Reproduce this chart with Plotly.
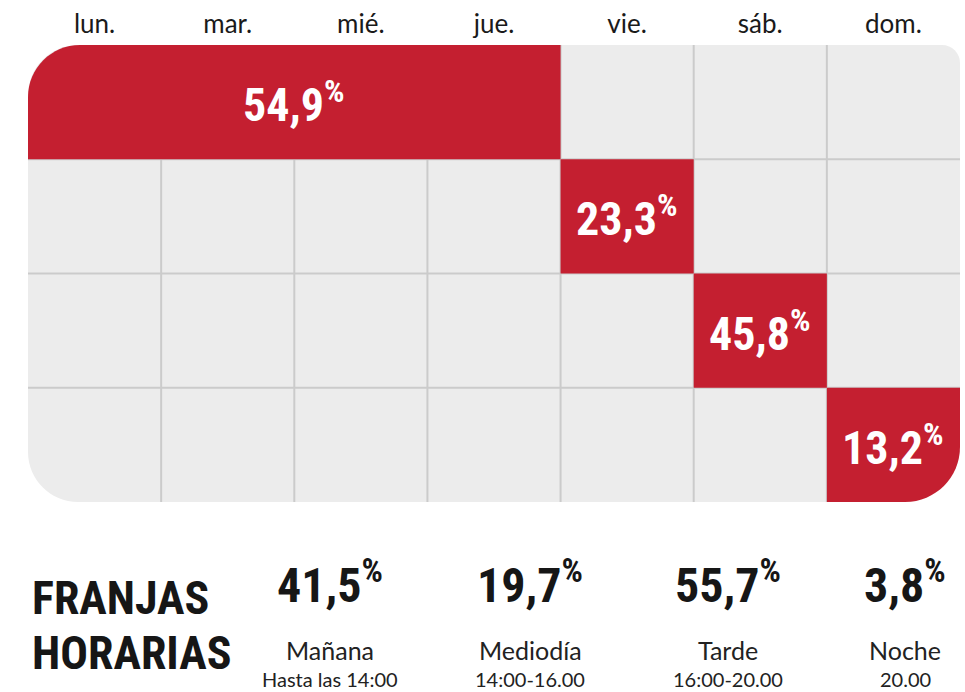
import plotly.graph_objects as go

# ---------------- data ----------------
days = ["lun.", "mar.", "mié.", "jue.", "vie.", "sáb.", "dom."]
n_rows = 4
block_row = [0, 1, 2, 3]          # row of each red block
block_start = [0, 4, 5, 6]        # first day column (index in days)
block_end = [4, 5, 6, 7]          # last column (exclusive)
block_value = ["54,9", "23,3", "45,8", "13,2"]

slot_value = ["41,5", "19,7", "55,7", "3,8"]
slot_name = ["Mañana", "Mediodía", "Tarde", "Noche"]
slot_hours = ["Hasta las 14:00", "14:00-16.00", "16:00-20.00", "20.00"]
section_title = ["FRANJAS", "HORARIAS"]

# ---------------- layout constants ----------------
W, H = 965, 692
GX0, GX1 = 28, 960       # grid horizontal pixel extent
GY0, GY1 = 45, 502       # grid vertical pixel extent
colpx = (GX1 - GX0) / len(days)
rowpx = (GY1 - GY0) / n_rows

RED = "#c41f30"
CELL = "#ececec"
LINE = "#cbcbcb"
COND = "Roboto Condensed, Open Sans Condensed, sans-serif"
SANS = "Lato, Open Sans, sans-serif"

K = 0.5523


def rpath(x0, x1, y0, y1, tl=0, tr=0, br=0, bl=0):
    """Rounded rectangle in data units; radii given in pixels."""
    def rx(r):
        return r / colpx

    def ry(r):
        return r / rowpx

    p = f"M {x0 + rx(tl)},{y0} L {x1 - rx(tr)},{y0} "
    if tr:
        p += (f"C {x1 - rx(tr) + K * rx(tr)},{y0} {x1},{y0 + ry(tr) - K * ry(tr)} "
              f"{x1},{y0 + ry(tr)} ")
    p += f"L {x1},{y1 - ry(br)} "
    if br:
        p += (f"C {x1},{y1 - ry(br) + K * ry(br)} {x1 - rx(br) + K * rx(br)},{y1} "
              f"{x1 - rx(br)},{y1} ")
    p += f"L {x0 + rx(bl)},{y1} "
    if bl:
        p += (f"C {x0 + rx(bl) - K * rx(bl)},{y1} {x0},{y1 - ry(bl) + K * ry(bl)} "
              f"{x0},{y1 - ry(bl)} ")
    p += f"L {x0},{y0 + ry(tl)} "
    if tl:
        p += (f"C {x0},{y0 + ry(tl) - K * ry(tl)} {x0 + rx(tl) - K * rx(tl)},{y0} "
              f"{x0 + rx(tl)},{y0} ")
    p += "Z"
    return p


ncol = len(days)
shapes = []
# background grid
shapes.append(dict(type="path", xref="x", yref="y",
                   path=rpath(0, ncol, 0, n_rows, tl=50, tr=18, br=55, bl=50),
                   fillcolor=CELL, line=dict(width=0), layer="below"))
for c in range(1, ncol):
    shapes.append(dict(type="line", xref="x", yref="y", x0=c, x1=c, y0=0, y1=n_rows,
                       line=dict(color=LINE, width=2)))
for r in range(1, n_rows):
    shapes.append(dict(type="line", xref="x", yref="y", x0=0, x1=ncol, y0=r, y1=r,
                       line=dict(color=LINE, width=2)))
# red blocks
for r, s, e in zip(block_row, block_start, block_end):
    tl = 52 if (r == 0 and s == 0) else 0
    br = 55 if (r == n_rows - 1 and e == ncol) else 0
    shapes.append(dict(type="path", xref="x", yref="y",
                       path=rpath(s, e, r, r + 1, tl=tl, br=br),
                       fillcolor=RED, line=dict(width=0)))

annotations = []
for r, s, e, v in zip(block_row, block_start, block_end, block_value):
    annotations.append(dict(x=(s + e) / 2, y=r + 0.5, xref="x", yref="y",
                            text=f"{v}<sup>%</sup>", showarrow=False,
                            font=dict(family=COND, size=46, color="white", weight="bold"),
                            xanchor="center", yanchor="middle"))

# bottom section
slot_x = [330, 530, 728, 905]
for xp, v, nm, hr in zip(slot_x, slot_value, slot_name, slot_hours):
    annotations.append(dict(x=xp / W, y=1 - 582 / H, xref="paper", yref="paper",
                            text=f"{v}<sup>%</sup>", showarrow=False,
                            font=dict(family=COND, size=48, color="#161616", weight="bold"),
                            xanchor="center", yanchor="middle"))
    annotations.append(dict(x=xp / W, y=1 - 650 / H, xref="paper", yref="paper",
                            text=nm, showarrow=False,
                            font=dict(family=SANS, size=25, color="#222222"),
                            xanchor="center", yanchor="middle"))
    annotations.append(dict(x=xp / W, y=1 - 679 / H, xref="paper", yref="paper",
                            text=hr, showarrow=False,
                            font=dict(family=SANS, size=20, color="#222222"),
                            xanchor="center", yanchor="middle"))

for j, t in enumerate(section_title):
    annotations.append(dict(x=30 / W, y=1 - (598 + 55 * j) / H, xref="paper", yref="paper",
                            text=t, showarrow=False,
                            font=dict(family=COND, size=46, color="#161616", weight="bold"),
                            xanchor="left", yanchor="middle"))

fig = go.Figure()
fig.add_trace(go.Scatter(x=[0.5], y=[0.5], mode="markers",
                         marker=dict(opacity=0), hoverinfo="skip", showlegend=False))

fig.update_layout(
    width=W, height=H,
    margin=dict(l=0, r=0, t=0, b=0),
    paper_bgcolor="white", plot_bgcolor="rgba(0,0,0,0)",
    shapes=shapes, annotations=annotations, showlegend=False,
    xaxis=dict(domain=[GX0 / W, GX1 / W], range=[0, ncol], side="top",
               tickvals=[i + 0.5 for i in range(ncol)], ticktext=days,
               tickfont=dict(family=SANS, size=26, color="#1a1a1a"),
               ticks="", ticklabelstandoff=6, showgrid=False, zeroline=False,
               showline=False, fixedrange=True),
    yaxis=dict(domain=[1 - GY1 / H, 1 - GY0 / H], range=[n_rows, 0],
               showticklabels=False, ticks="", showgrid=False, zeroline=False,
               showline=False, fixedrange=True),
)

fig.write_html("out.html")
